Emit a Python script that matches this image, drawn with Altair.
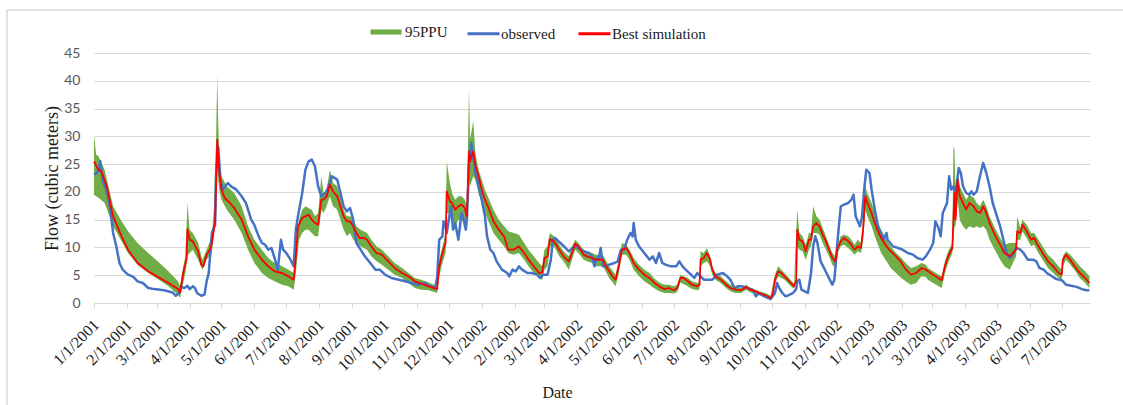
import altair as alt
import pandas as pd

# Daily streamflow, Jan 2001 - Jul 2003. Days are counted from 1 Jan 2001.
START = "2001-01-01"

# Best simulation
sim_day = [0, 4, 7, 12, 18, 26, 32, 41, 51, 60, 70, 79, 81, 84, 87, 88, 90, 93, 98, 101,
           103, 106, 109, 111, 114, 116, 118, 120, 123, 128, 132, 139, 145, 151, 158, 164, 170, 177, 183, 188,
           190, 192, 196, 199, 202, 205, 208, 211, 214, 216, 219, 222, 225, 229, 232, 235, 238, 241, 244, 247,
           250, 254, 257, 261, 266, 271, 277, 283, 290, 296, 302, 308, 315, 323, 325, 328, 331, 332, 335, 337,
           340, 343, 346, 349, 351, 353, 354, 357, 359, 362, 365, 368, 372, 376, 381, 386, 390, 395, 400, 405,
           409, 414, 419, 422, 424, 427, 429, 433, 438, 442, 447, 450, 453, 456, 461, 464, 469, 472, 475, 479,
           482, 485, 488, 491, 494, 497, 501, 504, 508, 513, 518, 523, 527, 532, 537, 541, 546, 549, 552, 555,
           559, 563, 568, 570, 571, 574, 577, 580, 582, 585, 590, 595, 599, 604, 609, 614, 618, 623, 626, 628,
           633, 637, 639, 641, 644, 647, 650, 653, 656, 659, 661, 662, 664, 667, 670, 673, 675, 677, 680, 683,
           686, 689, 692, 695, 698, 700, 703, 706, 710, 713, 716, 719, 722, 724, 726, 728, 732, 735, 738, 741,
           746, 750, 755, 760, 764, 769, 774, 779, 783, 785, 790, 795, 798, 801, 804, 808, 809, 810, 811, 813,
           815, 818, 821, 824, 828, 831, 834, 837, 840, 843, 848, 853, 857, 862, 865, 868, 869, 872, 874, 878,
           882, 885, 889, 894, 898, 903, 908, 911, 912, 915, 919, 923, 928, 933, 937]
sim_val = [25.5, 24.0, 23.7, 21.0, 15.6, 12.0, 9.6, 7.2, 5.7, 4.7, 3.6, 2.5, 1.9, 5.4, 7.8, 13.3, 11.4, 11.1, 9.3, 6.9,
           6.6, 8.7, 9.6, 10.8, 14.7, 29.4, 23.4, 20.4, 18.9, 18.0, 17.1, 15.0, 12.0, 9.6, 7.8, 6.6, 5.7, 5.4, 4.8, 4.2,
           8.4, 13.8, 15.3, 15.6, 15.9, 15.0, 14.4, 14.1, 18.6, 18.6, 19.2, 21.3, 20.1, 19.2, 17.4, 15.6, 14.7, 14.7, 13.8, 12.6,
           11.7, 11.7, 11.4, 10.2, 9.0, 8.7, 7.5, 6.3, 5.4, 4.8, 3.9, 3.5, 3.0, 2.5, 6.6, 9.0, 10.8, 20.1, 18.3, 18.0,
           16.8, 17.4, 17.7, 17.1, 15.6, 27.3, 25.5, 27.3, 24.9, 22.8, 20.4, 18.6, 16.8, 14.7, 13.2, 12.0, 9.6, 9.6, 10.2, 9.0,
           7.8, 6.6, 5.4, 5.5, 8.1, 8.4, 11.5, 11.1, 9.6, 8.4, 7.5, 9.0, 10.7, 10.2, 8.7, 8.4, 8.1, 7.8, 7.8, 7.8,
           6.6, 5.7, 4.8, 4.2, 6.6, 9.6, 9.9, 9.0, 7.2, 6.0, 5.1, 4.5, 3.7, 3.0, 2.5, 2.7, 2.3, 2.7, 4.5, 4.5,
           3.9, 3.3, 3.0, 3.3, 7.8, 8.1, 9.0, 7.8, 6.0, 4.8, 4.2, 3.3, 2.7, 2.4, 2.3, 2.9, 2.4, 2.1, 1.8, 1.7,
           1.3, 0.9, 1.8, 4.2, 5.7, 5.4, 4.8, 4.2, 3.6, 3.0, 4.2, 13.2, 11.4, 11.1, 9.3, 11.4, 11.4, 13.8, 14.4, 13.8,
           12.3, 11.1, 9.6, 8.1, 7.5, 9.9, 11.1, 11.7, 11.1, 10.5, 9.6, 10.2, 9.9, 13.2, 19.2, 18.0, 16.2, 14.4, 12.9, 11.7,
           10.2, 9.3, 8.4, 7.3, 6.1, 5.1, 5.4, 6.3, 6.0, 5.7, 5.1, 4.5, 4.1, 6.6, 8.4, 9.9, 15.0, 19.8, 15.0, 22.2,
           19.2, 18.0, 16.8, 18.0, 17.4, 16.5, 16.2, 17.4, 16.2, 14.4, 12.3, 10.5, 9.0, 8.4, 9.0, 9.6, 12.9, 12.6, 14.1, 12.9,
           11.4, 11.7, 10.2, 8.7, 7.5, 6.6, 5.4, 5.1, 7.8, 8.7, 7.8, 6.6, 5.4, 4.5, 3.6]

# Observed
obs_day = [0, 4, 6, 8, 12, 15, 18, 21, 24, 27, 32, 37, 41, 46, 51, 57, 66, 74, 77, 80,
           82, 85, 88, 90, 93, 95, 97, 101, 104, 106, 108, 111, 114, 115, 117, 119, 121, 126, 129, 134,
           139, 143, 146, 148, 151, 155, 158, 161, 164, 167, 170, 173, 176, 178, 181, 185, 188, 190, 192, 196,
           199, 202, 205, 208, 211, 214, 218, 221, 224, 229, 232, 235, 238, 241, 244, 247, 251, 255, 260, 265,
           269, 274, 280, 287, 293, 299, 305, 312, 315, 321, 323, 325, 328, 329, 331, 332, 336, 338, 340, 343,
           346, 348, 350, 351, 353, 355, 357, 359, 362, 365, 368, 370, 373, 376, 379, 384, 389, 391, 394, 397,
           400, 403, 408, 412, 417, 420, 423, 427, 430, 432, 434, 439, 444, 447, 452, 456, 461, 466, 469, 471,
           473, 475, 477, 479, 482, 485, 490, 493, 496, 499, 502, 505, 507, 508, 510, 513, 518, 523, 526, 529,
           532, 535, 538, 543, 548, 551, 554, 557, 562, 565, 568, 571, 574, 577, 582, 587, 592, 596, 599, 603,
           606, 610, 615, 620, 623, 626, 631, 637, 641, 643, 645, 648, 651, 655, 658, 661, 662, 664, 666, 669,
           672, 675, 677, 679, 681, 684, 688, 691, 695, 697, 700, 703, 706, 710, 713, 715, 717, 721, 723, 725,
           727, 730, 732, 735, 738, 743, 746, 747, 752, 757, 761, 766, 771, 775, 780, 783, 787, 790, 792, 795,
           797, 799, 803, 805, 807, 809, 811, 814, 816, 818, 821, 824, 826, 828, 831, 834, 837, 840, 843, 846,
           850, 853, 856, 859, 862, 865, 867, 869, 872, 875, 879, 884, 887, 890, 894, 897, 901, 906, 911, 915,
           920, 925, 930, 934, 937]
obs_val = [23.1, 23.7, 25.5, 22.2, 20.1, 17.4, 12.6, 10.2, 7.2, 6.0, 5.1, 4.7, 3.9, 3.6, 2.7, 2.5, 2.3, 1.9, 1.3, 1.8,
           2.9, 2.7, 3.1, 2.5, 3.0, 2.7, 1.8, 1.3, 1.5, 3.9, 5.4, 12.6, 14.1, 23.4, 28.0, 22.2, 20.4, 21.6, 21.0, 20.4,
           19.2, 18.0, 16.2, 15.0, 14.0, 12.0, 10.8, 10.5, 9.6, 9.9, 8.1, 6.0, 11.4, 9.6, 9.0, 7.8, 6.6, 13.2, 15.6, 19.8,
           24.0, 25.5, 25.8, 24.6, 21.0, 19.2, 19.8, 21.0, 22.8, 22.2, 19.8, 17.4, 16.5, 17.1, 15.0, 10.8, 9.6, 8.4, 7.2, 6.0,
           6.0, 5.1, 4.5, 4.2, 3.9, 3.6, 3.3, 3.6, 3.1, 2.7, 4.5, 11.4, 12.0, 14.7, 13.8, 12.6, 17.4, 13.2, 14.4, 11.4,
           16.2, 15.0, 13.2, 15.0, 24.6, 28.8, 26.4, 23.4, 21.0, 18.6, 15.6, 12.0, 9.6, 9.0, 7.5, 6.0, 5.4, 4.8, 6.0, 5.7,
           6.6, 6.0, 5.4, 5.4, 5.1, 4.5, 5.1, 5.1, 7.8, 11.4, 11.7, 10.8, 9.9, 9.3, 10.2, 9.9, 9.3, 9.0, 8.4, 6.6,
           8.1, 7.8, 9.9, 6.6, 6.6, 6.9, 7.2, 7.5, 9.6, 9.6, 11.4, 12.6, 12.0, 14.4, 11.4, 10.2, 9.0, 7.8, 8.4, 7.2,
           9.0, 7.2, 6.9, 6.6, 6.6, 7.5, 6.6, 6.0, 5.1, 4.5, 5.4, 4.8, 4.2, 4.2, 4.2, 5.1, 5.4, 4.8, 4.2, 2.7,
           3.0, 3.0, 2.7, 2.4, 1.2, 1.8, 1.2, 0.7, 1.8, 3.6, 2.7, 1.8, 1.2, 1.5, 1.8, 2.5, 3.9, 4.2, 2.4, 2.1,
           1.8, 5.4, 10.2, 12.0, 10.8, 7.5, 6.0, 4.8, 3.3, 4.2, 11.4, 17.4, 17.7, 18.0, 18.6, 19.5, 15.6, 13.8, 15.6, 20.4,
           24.0, 23.4, 20.4, 16.8, 13.8, 11.4, 12.6, 11.4, 10.2, 9.9, 9.6, 9.0, 8.7, 8.1, 7.8, 8.4, 9.6, 10.8, 14.7, 13.5,
           12.0, 16.2, 18.0, 22.8, 20.4, 21.0, 19.8, 24.3, 23.4, 21.0, 19.8, 19.5, 20.1, 19.5, 20.1, 22.8, 25.2, 23.4, 21.0, 18.0,
           15.6, 13.8, 11.4, 9.0, 8.1, 8.7, 9.6, 9.9, 9.6, 9.0, 7.8, 7.8, 7.5, 6.3, 6.0, 5.4, 4.9, 4.3, 4.1, 3.3,
           3.1, 2.9, 2.5, 2.3, 2.3]

# 95PPU band (lower and upper bounds)
band_day = [0, 2, 4, 10, 18, 26, 32, 41, 51, 60, 70, 79, 81, 84, 86, 88, 90, 93, 98, 102,
            106, 111, 113, 115, 116, 117, 118, 120, 125, 132, 139, 145, 151, 158, 164, 170, 177, 183, 188, 190,
            193, 196, 199, 202, 205, 208, 211, 214, 216, 219, 222, 225, 229, 232, 235, 238, 241, 244, 247, 251,
            257, 261, 266, 271, 277, 283, 290, 296, 302, 308, 315, 323, 325, 328, 331, 332, 335, 337, 340, 343,
            346, 349, 351, 353, 354, 357, 359, 362, 365, 368, 372, 376, 381, 386, 390, 395, 400, 405, 409, 414,
            419, 422, 424, 427, 429, 433, 438, 442, 447, 450, 453, 456, 461, 464, 469, 472, 479, 485, 491, 494,
            497, 501, 504, 508, 513, 518, 523, 527, 532, 537, 541, 546, 549, 552, 559, 563, 568, 570, 571, 574,
            577, 580, 582, 585, 590, 595, 599, 604, 609, 614, 618, 623, 626, 633, 637, 641, 644, 650, 656, 659,
            662, 664, 667, 670, 673, 675, 677, 680, 683, 686, 689, 692, 695, 698, 700, 703, 706, 710, 713, 716,
            719, 722, 724, 726, 728, 732, 735, 738, 741, 746, 750, 755, 760, 764, 769, 774, 779, 783, 785, 790,
            795, 798, 801, 804, 808, 809, 810, 811, 813, 815, 818, 821, 824, 828, 831, 834, 837, 840, 843, 848,
            853, 857, 862, 865, 868, 869, 872, 874, 878, 882, 885, 889, 894, 898, 903, 908, 911, 912, 915, 919,
            923, 928, 933, 937]
band_lo = [19.5, 19.2, 19.0, 18.0, 13.8, 11.1, 9.0, 6.9, 5.4, 4.3, 3.0, 1.5, 0.9, 3.6, 5.4, 8.4, 9.0, 9.6, 7.8, 6.0,
           7.8, 9.0, 12.6, 20.0, 26.0, 22.0, 20.4, 18.6, 16.8, 15.0, 12.6, 9.6, 7.2, 5.4, 4.5, 3.9, 3.3, 3.0, 2.4, 5.4,
           11.4, 12.6, 13.2, 13.2, 12.6, 12.0, 12.0, 16.8, 16.2, 17.4, 19.2, 17.4, 16.8, 15.0, 13.2, 12.0, 12.6, 11.4, 10.8, 10.2,
           9.6, 8.4, 7.5, 6.9, 6.0, 5.1, 4.5, 3.6, 2.7, 2.4, 2.3, 1.8, 4.8, 7.2, 9.0, 16.2, 16.2, 15.0, 13.8, 15.0,
           15.0, 14.4, 13.8, 22.2, 21.0, 22.8, 22.2, 19.8, 18.0, 16.2, 14.4, 12.6, 11.4, 10.2, 9.0, 8.7, 9.0, 7.8, 6.6, 5.4,
           4.5, 4.2, 6.0, 6.6, 10.2, 10.2, 8.4, 7.5, 6.0, 7.8, 9.6, 9.0, 7.8, 7.5, 7.2, 6.6, 6.6, 4.5, 3.0, 5.4,
           8.7, 8.7, 7.8, 6.0, 4.8, 3.9, 3.3, 2.7, 2.1, 1.8, 1.8, 1.7, 2.0, 3.7, 3.0, 2.5, 2.3, 2.5, 6.6, 7.2,
           7.5, 6.6, 5.1, 4.2, 3.6, 2.7, 2.1, 1.8, 1.8, 2.4, 1.9, 1.6, 1.4, 0.9, 0.6, 3.3, 4.8, 4.2, 3.0, 2.5,
           10.2, 9.6, 9.3, 7.8, 9.6, 10.2, 12.6, 12.6, 12.3, 10.8, 9.6, 8.4, 6.9, 6.3, 9.0, 10.2, 10.5, 9.9, 9.3, 8.7,
           9.3, 9.0, 11.4, 16.8, 15.6, 13.8, 12.0, 10.5, 9.0, 7.5, 6.3, 5.4, 4.5, 3.9, 3.3, 3.6, 4.8, 4.7, 4.2, 3.6,
           3.0, 2.7, 5.4, 7.2, 9.0, 11.4, 13.8, 13.8, 18.6, 15.0, 13.8, 13.2, 13.8, 13.5, 13.8, 13.5, 13.8, 13.2, 11.4, 9.6,
           7.8, 6.6, 6.0, 7.2, 8.4, 11.4, 11.4, 12.9, 11.7, 10.2, 10.5, 9.0, 7.5, 6.3, 5.4, 4.5, 4.2, 6.6, 7.8, 6.9,
           6.0, 4.5, 3.6, 2.7]
band_hi = [30.3, 26.7, 26.5, 24.0, 17.4, 14.7, 12.9, 10.8, 9.0, 7.5, 5.7, 3.9, 3.0, 6.6, 8.4, 18.0, 13.2, 12.6, 10.8, 7.8,
           9.6, 12.0, 17.4, 30.0, 41.1, 32.0, 25.2, 22.8, 21.0, 19.8, 17.4, 13.8, 11.4, 9.6, 8.1, 7.2, 6.6, 6.0, 5.4, 9.6,
           15.0, 16.8, 17.4, 17.1, 16.8, 15.6, 16.2, 22.8, 19.8, 20.4, 24.0, 21.6, 21.0, 19.2, 16.8, 15.6, 15.6, 15.0, 13.8, 13.2,
           12.6, 11.4, 10.2, 9.6, 8.4, 7.2, 6.3, 5.4, 4.5, 4.2, 3.7, 3.0, 7.8, 10.2, 12.6, 25.5, 21.6, 19.8, 18.6, 19.2,
           19.2, 18.6, 17.4, 38.7, 29.4, 32.7, 27.0, 24.0, 22.2, 20.4, 18.6, 16.8, 15.0, 13.8, 12.9, 12.6, 12.3, 10.8, 9.6, 8.4,
           7.2, 6.6, 9.6, 10.2, 12.6, 12.0, 10.5, 9.3, 8.4, 10.2, 11.4, 10.8, 9.6, 9.3, 9.0, 8.7, 8.7, 6.6, 5.1, 7.8,
           10.8, 10.5, 9.6, 8.1, 6.9, 6.0, 5.4, 4.5, 3.7, 3.3, 3.3, 3.0, 3.3, 5.1, 4.5, 3.9, 3.6, 3.9, 9.3, 9.0,
           9.9, 8.4, 6.6, 5.4, 4.8, 3.9, 3.3, 3.0, 2.7, 3.3, 2.7, 2.4, 2.1, 1.7, 1.3, 5.1, 6.6, 5.4, 4.1, 3.5,
           16.8, 12.6, 12.0, 10.5, 12.6, 12.6, 17.4, 15.6, 15.0, 13.5, 12.0, 10.5, 9.0, 8.4, 10.5, 12.0, 12.3, 12.0, 11.4, 10.5,
           11.4, 10.8, 15.0, 21.0, 19.8, 18.0, 16.2, 14.4, 13.2, 11.4, 10.2, 9.0, 8.1, 7.2, 6.3, 6.6, 7.2, 6.9, 6.3, 5.7,
           5.1, 4.8, 7.5, 9.3, 10.8, 28.2, 27.6, 19.8, 23.4, 21.0, 19.8, 18.6, 19.5, 19.0, 18.0, 17.4, 18.6, 17.4, 15.6, 13.5,
           11.7, 10.5, 10.8, 10.8, 10.8, 15.6, 13.5, 15.0, 14.1, 12.6, 12.6, 11.4, 9.9, 8.7, 7.8, 6.6, 6.0, 8.4, 9.3, 8.7,
           7.8, 6.6, 5.7, 4.8]

BAND_NAME = "95PPU"
LINE_NAMES = ["observed", "Best simulation"]
BAND_COLOR = "#70AD47"
LINE_COLORS = ["#4472C4", "#FF0000"]


def to_dates(days):
    return (pd.Timestamp(START) + pd.to_timedelta(days, unit="D")).strftime("%Y-%m-%d")


band_df = pd.DataFrame({"date": to_dates(band_day), "lo": band_lo, "hi": band_hi, "series": BAND_NAME})
obs_df = pd.DataFrame({"date": to_dates(obs_day), "flow": obs_val, "series": LINE_NAMES[0]})
sim_df = pd.DataFrame({"date": to_dates(sim_day), "flow": sim_val, "series": LINE_NAMES[1]})

month_ticks = [alt.DateTime(year=2001 + i // 12, month=i % 12 + 1, date=1, utc=True) for i in range(31)]

x_scale = alt.Scale(
    type="utc",
    domain=[alt.DateTime(year=2001, month=1, date=1, utc=True),
            alt.DateTime(year=2003, month=7, date=27, hours=14, utc=True)],
)
x_axis = alt.Axis(
    values=month_ticks, labelExpr="utcFormat(datum.value, '%-m/%-d/%Y')",
    labelAngle=-45, labelAlign="right", labelBaseline="middle",
    labelPadding=14, labelOffset=2, labelFont="Liberation Serif", labelFontSize=16,
    labelColor="#1a1a1a", labelOverlap=False, labelBound=False, labelFlush=False,
    grid=False, domainColor="#d9d9d9", tickColor="#d9d9d9", tickSize=5,
    title="Date", titleFont="Liberation Serif", titleFontSize=16, titleFontWeight="normal",
    titleColor="#1a1a1a", titleX=463, titleY=94, titleAlign="center", titleBaseline="alphabetic",
)
x_enc = alt.X("date:T", scale=x_scale, axis=x_axis)

y_axis = alt.Axis(
    values=list(range(0, 50, 5)), grid=True, gridColor="#d9d9d9", domain=False, ticks=False,
    labelFont="Lato", labelFontSize=14, labelColor="#595959", labelPadding=14,
    title="Flow (cubic meters)", titleFont="Liberation Serif", titleFontSize=18, titleFontWeight="normal",
    titleColor="#1a1a1a", titleAngle=270, titleX=-42, titleY=125, titleAlign="center", titleBaseline="middle",
)
y_scale = alt.Scale(domain=[0, 45], nice=False)

legend_style = dict(
    title=None, orient="none", direction="horizontal",
    labelFont="Liberation Serif", labelFontSize=15, labelColor="#1a1a1a",
    symbolSize=1024,
)

band_fill = alt.Fill(
    "series:N",
    scale=alt.Scale(domain=[BAND_NAME], range=[BAND_COLOR]),
    legend=alt.Legend(legendX=276, legendY=-37, symbolType="M-0.97,-0.16H0.97V0.16H-0.97Z",
                      symbolStrokeWidth=0, symbolOpacity=1, labelOffset=3, **legend_style),
)

line_stroke = alt.Stroke(
    "series:N",
    scale=alt.Scale(domain=LINE_NAMES, range=LINE_COLORS),
    legend=alt.Legend(legendX=372, legendY=-37, symbolType="stroke",
                      symbolStrokeWidth=3, symbolOpacity=1, labelOffset=0, columnPadding=16,
                      **legend_style),
)

band = alt.Chart(band_df).mark_area(opacity=1).encode(
    x=x_enc,
    y=alt.Y("lo:Q", scale=y_scale, axis=y_axis),
    y2="hi:Q",
    fill=band_fill,
)

observed = alt.Chart(obs_df).mark_line(strokeWidth=2.5, strokeJoin="round").encode(
    x=x_enc, y=alt.Y("flow:Q", scale=y_scale, axis=y_axis), stroke=line_stroke,
)

simulated = alt.Chart(sim_df).mark_line(strokeWidth=1.8, strokeJoin="round").encode(
    x=x_enc, y=alt.Y("flow:Q", scale=y_scale, axis=y_axis), stroke=line_stroke,
)

# light frame around the chart area
frame = alt.Chart(pd.DataFrame({"k": [0]})).mark_rect(
    fill="transparent", stroke="#d9d9d9", strokeWidth=1.5, clip=False
).encode(x=alt.value(-87), x2=alt.value(1036), y=alt.value(-43), y2=alt.value(357))

chart = alt.layer(band, observed, simulated, frame).properties(
    width=996, height=250,
    autosize=alt.AutoSizeParams(type="none"),
    padding={"left": 94, "top": 53, "right": 33, "bottom": 102},
    background="white",
).configure_view(stroke=None).configure_axisX(
    labelFont="Liberation Serif", labelFontSize=16, labelColor="#1a1a1a"
)

chart.save("out.html", embed_options={"renderer": "svg", "actions": False})
